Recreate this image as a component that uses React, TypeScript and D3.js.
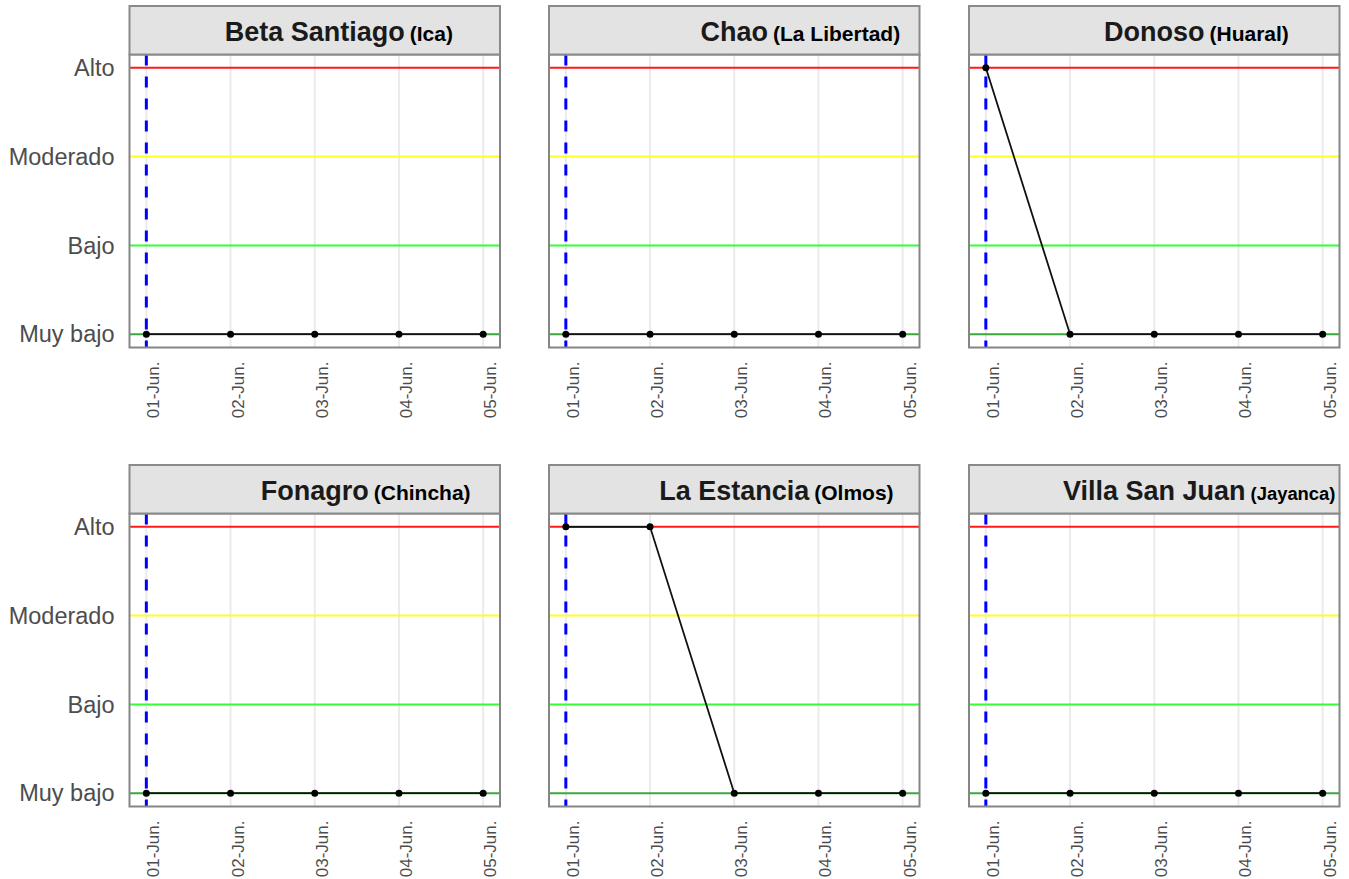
import React, { useEffect, useRef } from "react";
import * as d3 from "d3";

const dates = ["01-Jun.", "02-Jun.", "03-Jun.", "04-Jun.", "05-Jun."];
const levels = ["Muy bajo", "Bajo", "Moderado", "Alto"];
const levelValues = [1, 2, 3, 4];
const levelColors = ["#3aa83a", "#33ff33", "#ffff22", "#ff1a1a"];

const stationNames = ["Beta Santiago", "Chao", "Donoso", "Fonagro", "La Estancia", "Villa San Juan"];
const stationRegions = ["(Ica)", "(La Libertad)", "(Huaral)", "(Chincha)", "(Olmos)", "(Jayanca)"];

const betaSantiago = [1, 1, 1, 1, 1];
const chao = [1, 1, 1, 1, 1];
const donoso = [4, 1, 1, 1, 1];
const fonagro = [1, 1, 1, 1, 1];
const laEstancia = [4, 4, 1, 1, 1];
const villaSanJuan = [1, 1, 1, 1, 1];
const seriesValues = [betaSantiago, chao, donoso, fonagro, laEstancia, villaSanJuan];

const currentDayIndex = 0;

const W = 1349;
const H = 879;
const colLefts = [129.5, 549, 969];
const rowTops = [6, 465];
const panelW = 370.5;
const stripH = 48.5;
const panelH = 293;
const FONT = "'Liberation Sans', Arial, sans-serif";

export default function App() {
  const ref = useRef<SVGSVGElement | null>(null);

  useEffect(() => {
    const svg = d3.select(ref.current);
    svg.selectAll("*").remove();

    stationNames.forEach((name, i) => {
      const col = i % 3;
      const row = Math.floor(i / 3);
      const left = colLefts[col];
      const stripTop = rowTops[row];
      const top = stripTop + stripH;
      const bottom = top + panelH;
      const right = left + panelW;

      const x = d3.scaleLinear().domain([-0.2, dates.length - 1 + 0.2]).range([left, right]);
      const y = d3.scaleLinear().domain([0.85, 4.15]).range([bottom, top]);

      const g = svg.append("g");

      g.append("rect").attr("x", left).attr("y", top).attr("width", panelW).attr("height", panelH).attr("fill", "#ffffff");

      g.selectAll("line.grid")
        .data(dates)
        .enter()
        .append("line")
        .attr("x1", (_d, k) => x(k))
        .attr("x2", (_d, k) => x(k))
        .attr("y1", top)
        .attr("y2", bottom)
        .attr("stroke", "#ebebeb")
        .attr("stroke-width", 2);

      g.selectAll("line.level")
        .data(levelValues)
        .enter()
        .append("line")
        .attr("x1", left)
        .attr("x2", right)
        .attr("y1", (d) => y(d))
        .attr("y2", (d) => y(d))
        .attr("stroke", (_d, k) => levelColors[k])
        .attr("stroke-width", 2);

      g.append("line")
        .attr("x1", x(currentDayIndex))
        .attr("x2", x(currentDayIndex))
        .attr("y1", top)
        .attr("y2", bottom)
        .attr("stroke", "#0000ff")
        .attr("stroke-width", 3)
        .attr("stroke-dasharray", "11,11");

      const vals = seriesValues[i];
      const line = d3
        .line<number>()
        .x((_d, k) => x(k))
        .y((d) => y(d));
      g.append("path").attr("d", line(vals) || "").attr("fill", "none").attr("stroke", "#111111").attr("stroke-width", 1.8);
      g.selectAll("circle")
        .data(vals)
        .enter()
        .append("circle")
        .attr("cx", (_d, k) => x(k))
        .attr("cy", (d) => y(d))
        .attr("r", 3.5)
        .attr("fill", "#000000");

      g.append("rect")
        .attr("x", left)
        .attr("y", top)
        .attr("width", panelW)
        .attr("height", panelH)
        .attr("fill", "none")
        .attr("stroke", "#858585")
        .attr("stroke-width", 2);

      g.append("rect")
        .attr("x", left)
        .attr("y", stripTop)
        .attr("width", panelW)
        .attr("height", stripH)
        .attr("fill", "#e3e3e3")
        .attr("stroke", "#8a8a8a")
        .attr("stroke-width", 2);

      const cx = (left + right) / 2;
      const base = stripTop + 35;
      const main = g
        .append("text")
        .attr("x", cx)
        .attr("y", base)
        .attr("text-anchor", "middle")
        .attr("font-family", FONT)
        .attr("font-weight", "bold")
        .attr("font-size", 27)
        .attr("fill", "#1a1a1a")
        .text(name);
      const mw = (main.node() as SVGTextElement).getComputedTextLength();
      const subX = cx + mw / 2 + 5;
      const sub = g
        .append("text")
        .attr("x", subX)
        .attr("y", base)
        .attr("font-family", FONT)
        .attr("font-weight", "bold")
        .attr("font-size", 21)
        .attr("fill", "#000000")
        .text(stationRegions[i]);
      const sw = (sub.node() as SVGTextElement).getComputedTextLength();
      const avail = right - 4 - subX;
      if (sw > avail) {
        sub.attr("font-size", (21 * avail) / sw);
      }

      g.selectAll("text.xt")
        .data(dates)
        .enter()
        .append("text")
        .attr("transform", (_d, k) => `translate(${x(k) + 13},${bottom + 14}) rotate(-90)`)
        .attr("text-anchor", "end")
        .attr("font-family", FONT)
        .attr("font-size", 17)
        .attr("fill", "#4d4d4d")
        .text((d) => d);

      if (col === 0) {
        g.selectAll("text.yt")
          .data(levelValues)
          .enter()
          .append("text")
          .attr("x", left - 15)
          .attr("y", (d) => y(d))
          .attr("dy", "0.35em")
          .attr("text-anchor", "end")
          .attr("font-family", FONT)
          .attr("font-size", 23.5)
          .attr("fill", "#4d4d4d")
          .text((_d, k) => levels[k]);
      }
    });
  }, []);

  return (
    <svg
      ref={ref}
      width={W}
      height={H}
      style={{ position: "absolute", left: 0, top: 0, background: "#ffffff" }}
    />
  );
}
